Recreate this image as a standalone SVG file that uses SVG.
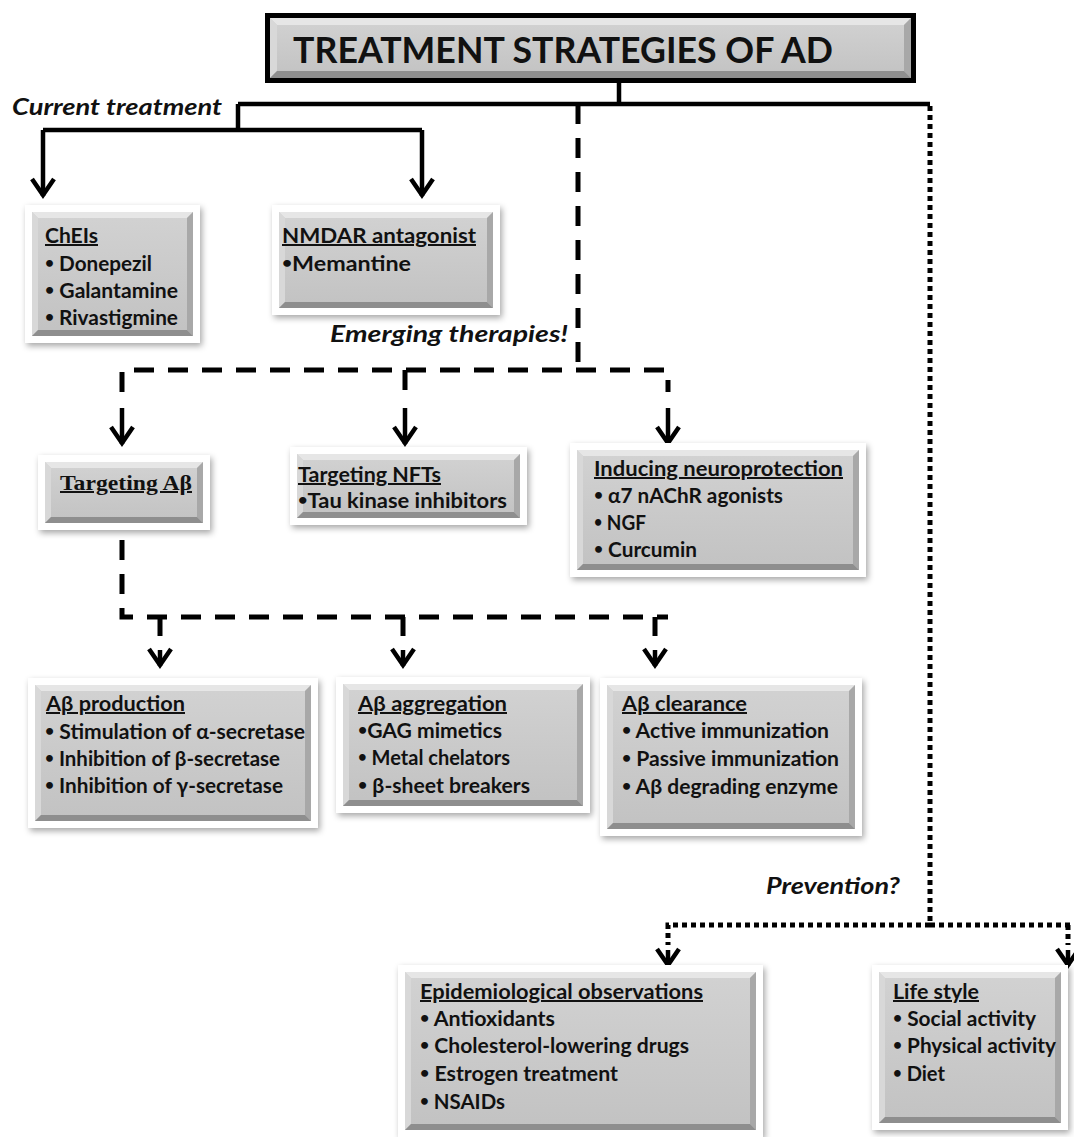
<svg xmlns="http://www.w3.org/2000/svg" width="1074" height="1137" viewBox="0 0 1074 1137">
<style>
.frame{fill:#fff;filter:url(#sh)}
.body{fill:url(#g)}
.bt{fill:#e6e6e6}.bl{fill:#d8d8d8}.br{fill:#a8a8a8}.bb{fill:#8e8e8e}
.t{font-family:Lato,'Liberation Sans',sans-serif;font-weight:700;font-size:20px;fill:#111}
.big{font-size:37px}
.u{text-decoration:underline}
.lab{font-style:italic;font-size:22px}
.serif{font-family:'Liberation Serif',serif;font-size:20px}
.b{font-size:15px}
.solid{stroke:#000;stroke-width:4.5;fill:none}
.dash{stroke:#000;stroke-width:5;stroke-dasharray:20 14;fill:none}
.dot{stroke:#000;stroke-width:5;stroke-dasharray:5 4;fill:none}
.arr{marker-end:url(#ah)}
</style>
<defs>
<linearGradient id="g" x1="0" y1="0" x2="0" y2="1"><stop offset="0" stop-color="#d2d2d2"/><stop offset="1" stop-color="#c2c2c2"/></linearGradient>
<filter id="sh" x="-10%" y="-10%" width="125%" height="130%"><feDropShadow dx="2" dy="3" stdDeviation="3" flood-color="#000" flood-opacity="0.35"/></filter>
<marker id="ah" markerUnits="userSpaceOnUse" markerWidth="40" markerHeight="40" viewBox="-20 -20 40 40" refX="0" refY="0" orient="auto" overflow="visible"><path d="M-17,-11 L-1,0 L-17,11" fill="none" stroke="#000" stroke-width="4.5"/></marker>
</defs>
<rect width="1074" height="1137" fill="#fff"/>

<g id="connectors">
<path class="solid" d="M619,83 V104 M238,104 H930 M238,104 V130 M43,130 H422"/>
<path class="solid arr" d="M43,130 V196"/>
<path class="solid arr" d="M422,130 V196"/>
<path class="dash" d="M578,104 V370"/>
<path class="dash" d="M122,392 V370 H668 V392 M405,370 V392"/>
<path class="solid arr" d="M122,408 V444"/>
<path class="solid arr" d="M405,408 V444"/>
<path class="solid arr" d="M668,408 V444"/>
<path class="dash" d="M122,540 V617 H668 M160,617 V636 M403,617 V636 M655,617 V636"/>
<path class="solid arr" d="M160,650 V666"/>
<path class="solid arr" d="M403,650 V666"/>
<path class="solid arr" d="M655,650 V666"/>
<path class="dot" d="M930,106 V925 H1070 M930,925 H668 V945 M1068,925 V945"/>
<path class="solid arr" d="M668,950 V966"/>
<path class="solid arr" d="M1068,950 V966"/>
</g>

<g id="title">
<rect x="265" y="13" width="651" height="70" fill="#000"/>
<rect x="270" y="18" width="641" height="60" class="body"/>
<polygon class="bt" points="270,18 911,18 904,25 277,25"/>
<polygon class="bl" points="270,18 277,25 277,71 270,78"/>
<polygon class="br" points="911,18 911,78 904,71 904,25"/>
<polygon class="bb" points="270,78 911,78 904,71 277,71"/>
<text class="t big" x="293" y="63" textLength="540" lengthAdjust="spacingAndGlyphs">TREATMENT STRATEGIES OF AD</text>
</g>

<g id="label-current"><text class="t lab" x="12" y="115" textLength="210" lengthAdjust="spacingAndGlyphs">Current treatment</text></g>
<g id="label-emerging"><text class="t lab" x="330" y="342" textLength="238" lengthAdjust="spacingAndGlyphs">Emerging therapies!</text></g>
<g id="label-prevention"><text class="t lab" x="766" y="894" textLength="134" lengthAdjust="spacingAndGlyphs">Prevention?</text></g>

<g id="chei">
<rect class="frame" x="25" y="205" width="175" height="138"/>
<rect class="body" x="32" y="212" width="161" height="124"/>
<polygon class="bt" points="32,212 193,212 187,218 38,218"/>
<polygon class="bl" points="32,212 38,218 38,330 32,336"/>
<polygon class="br" points="193,212 193,336 187,330 187,218"/>
<polygon class="bb" points="32,336 193,336 187,330 38,330"/>
<text class="t u" x="45" y="243" textLength="53" lengthAdjust="spacingAndGlyphs">ChEIs</text>
<text class="t" x="45" y="271" textLength="107" lengthAdjust="spacingAndGlyphs"><tspan class="b" dy="-3">•</tspan><tspan dy="3"> Donepezil</tspan></text>
<text class="t" x="45" y="298" textLength="133" lengthAdjust="spacingAndGlyphs"><tspan class="b" dy="-3">•</tspan><tspan dy="3"> Galantamine</tspan></text>
<text class="t" x="45" y="325" textLength="133" lengthAdjust="spacingAndGlyphs"><tspan class="b" dy="-3">•</tspan><tspan dy="3"> Rivastigmine</tspan></text>
</g>

<g id="nmdar">
<rect class="frame" x="272" y="205" width="228" height="110"/>
<rect class="body" x="279" y="212" width="214" height="96"/>
<polygon class="bt" points="279,212 493,212 487,218 285,218"/>
<polygon class="bl" points="279,212 285,218 285,302 279,308"/>
<polygon class="br" points="493,212 493,308 487,302 487,218"/>
<polygon class="bb" points="279,308 493,308 487,302 285,302"/>
<text class="t u" x="282" y="243" textLength="194" lengthAdjust="spacingAndGlyphs">NMDAR antagonist</text>
<text class="t" x="282" y="271" textLength="129" lengthAdjust="spacingAndGlyphs"><tspan class="b" dy="-3">•</tspan><tspan dy="3">Memantine</tspan></text>
</g>

<g id="targeting-abeta">
<rect class="frame" x="38" y="455" width="172" height="75"/>
<rect class="body" x="45" y="462" width="158" height="61"/>
<polygon class="bt" points="45,462 203,462 197,468 51,468"/>
<polygon class="bl" points="45,462 51,468 51,517 45,523"/>
<polygon class="br" points="203,462 203,523 197,517 197,468"/>
<polygon class="bb" points="45,523 203,523 197,517 51,517"/>
<text class="t serif u" x="60" y="490" textLength="132" lengthAdjust="spacingAndGlyphs">Targeting Aβ</text>
</g>

<g id="targeting-nfts">
<rect class="frame" x="290" y="447" width="237" height="78"/>
<rect class="body" x="297" y="454" width="223" height="64"/>
<polygon class="bt" points="297,454 520,454 514,460 303,460"/>
<polygon class="bl" points="297,454 303,460 303,512 297,518"/>
<polygon class="br" points="520,454 520,518 514,512 514,460"/>
<polygon class="bb" points="297,518 520,518 514,512 303,512"/>
<text class="t u" x="298" y="482" textLength="143" lengthAdjust="spacingAndGlyphs">Targeting NFTs</text>
<text class="t" x="298" y="508" textLength="209" lengthAdjust="spacingAndGlyphs"><tspan class="b" dy="-3">•</tspan><tspan dy="3">Tau kinase  inhibitors</tspan></text>
</g>

<g id="neuroprotection">
<rect class="frame" x="570" y="443" width="296" height="134"/>
<rect class="body" x="577" y="450" width="282" height="120"/>
<polygon class="bt" points="577,450 859,450 853,456 583,456"/>
<polygon class="bl" points="577,450 583,456 583,564 577,570"/>
<polygon class="br" points="859,450 859,570 853,564 853,456"/>
<polygon class="bb" points="577,570 859,570 853,564 583,564"/>
<text class="t u" x="594" y="476" textLength="249" lengthAdjust="spacingAndGlyphs">Inducing neuroprotection</text>
<text class="t" x="594" y="503" textLength="189" lengthAdjust="spacingAndGlyphs"><tspan class="b" dy="-3">•</tspan><tspan dy="3"> α7 nAChR agonists</tspan></text>
<text class="t" x="594" y="530" textLength="52" lengthAdjust="spacingAndGlyphs"><tspan class="b" dy="-3">•</tspan><tspan dy="3"> NGF</tspan></text>
<text class="t" x="594" y="557" textLength="103" lengthAdjust="spacingAndGlyphs"><tspan class="b" dy="-3">•</tspan><tspan dy="3"> Curcumin</tspan></text>
</g>

<g id="abeta-production">
<rect class="frame" x="28" y="678" width="290" height="150"/>
<rect class="body" x="35" y="685" width="276" height="136"/>
<polygon class="bt" points="35,685 311,685 305,691 41,691"/>
<polygon class="bl" points="35,685 41,691 41,815 35,821"/>
<polygon class="br" points="311,685 311,821 305,815 305,691"/>
<polygon class="bb" points="35,821 311,821 305,815 41,815"/>
<text class="t u" x="46" y="711" textLength="139" lengthAdjust="spacingAndGlyphs">Aβ production</text>
<text class="t" x="45" y="739" textLength="260" lengthAdjust="spacingAndGlyphs"><tspan class="b" dy="-3">•</tspan><tspan dy="3"> Stimulation of α-secretase</tspan></text>
<text class="t" x="45" y="766" textLength="235" lengthAdjust="spacingAndGlyphs"><tspan class="b" dy="-3">•</tspan><tspan dy="3"> Inhibition of β-secretase</tspan></text>
<text class="t" x="45" y="793" textLength="238" lengthAdjust="spacingAndGlyphs"><tspan class="b" dy="-3">•</tspan><tspan dy="3"> Inhibition of γ-secretase</tspan></text>
</g>

<g id="abeta-aggregation">
<rect class="frame" x="336" y="677" width="254" height="136"/>
<rect class="body" x="343" y="684" width="240" height="122"/>
<polygon class="bt" points="343,684 583,684 577,690 349,690"/>
<polygon class="bl" points="343,684 349,690 349,800 343,806"/>
<polygon class="br" points="583,684 583,806 577,800 577,690"/>
<polygon class="bb" points="343,806 583,806 577,800 349,800"/>
<text class="t u" x="358" y="711" textLength="149" lengthAdjust="spacingAndGlyphs">Aβ aggregation</text>
<text class="t" x="358" y="738" textLength="144" lengthAdjust="spacingAndGlyphs"><tspan class="b" dy="-3">•</tspan><tspan dy="3">GAG mimetics</tspan></text>
<text class="t" x="358" y="765" textLength="152" lengthAdjust="spacingAndGlyphs"><tspan class="b" dy="-3">•</tspan><tspan dy="3"> Metal chelators</tspan></text>
<text class="t" x="358" y="793" textLength="172" lengthAdjust="spacingAndGlyphs"><tspan class="b" dy="-3">•</tspan><tspan dy="3"> β-sheet breakers</tspan></text>
</g>

<g id="abeta-clearance">
<rect class="frame" x="600" y="678" width="262" height="158"/>
<rect class="body" x="607" y="685" width="248" height="144"/>
<polygon class="bt" points="607,685 855,685 849,691 613,691"/>
<polygon class="bl" points="607,685 613,691 613,823 607,829"/>
<polygon class="br" points="855,685 855,829 849,823 849,691"/>
<polygon class="bb" points="607,829 855,829 849,823 613,823"/>
<text class="t u" x="622" y="711" textLength="125" lengthAdjust="spacingAndGlyphs">Aβ clearance</text>
<text class="t" x="622" y="738" textLength="207" lengthAdjust="spacingAndGlyphs"><tspan class="b" dy="-3">•</tspan><tspan dy="3"> Active immunization</tspan></text>
<text class="t" x="622" y="766" textLength="217" lengthAdjust="spacingAndGlyphs"><tspan class="b" dy="-3">•</tspan><tspan dy="3"> Passive immunization</tspan></text>
<text class="t" x="622" y="794" textLength="216" lengthAdjust="spacingAndGlyphs"><tspan class="b" dy="-3">•</tspan><tspan dy="3"> Aβ degrading enzyme</tspan></text>
</g>

<g id="epidemiological">
<rect class="frame" x="398" y="965" width="365" height="172"/>
<rect class="body" x="405" y="972" width="351" height="158"/>
<polygon class="bt" points="405,972 756,972 750,978 411,978"/>
<polygon class="bl" points="405,972 411,978 411,1124 405,1130"/>
<polygon class="br" points="756,972 756,1130 750,1124 750,978"/>
<polygon class="bb" points="405,1130 756,1130 750,1124 411,1124"/>
<text class="t u" x="420" y="999" textLength="283" lengthAdjust="spacingAndGlyphs">Epidemiological observations</text>
<text class="t" x="420" y="1026" textLength="135" lengthAdjust="spacingAndGlyphs"><tspan class="b" dy="-3">•</tspan><tspan dy="3"> Antioxidants</tspan></text>
<text class="t" x="420" y="1053" textLength="269" lengthAdjust="spacingAndGlyphs"><tspan class="b" dy="-3">•</tspan><tspan dy="3"> Cholesterol-lowering drugs</tspan></text>
<text class="t" x="420" y="1081" textLength="198" lengthAdjust="spacingAndGlyphs"><tspan class="b" dy="-3">•</tspan><tspan dy="3"> Estrogen treatment</tspan></text>
<text class="t" x="420" y="1109" textLength="85" lengthAdjust="spacingAndGlyphs"><tspan class="b" dy="-3">•</tspan><tspan dy="3"> NSAIDs</tspan></text>
</g>

<g id="lifestyle">
<rect class="frame" x="872" y="965" width="196" height="165"/>
<rect class="body" x="879" y="972" width="182" height="151"/>
<polygon class="bt" points="879,972 1061,972 1055,978 885,978"/>
<polygon class="bl" points="879,972 885,978 885,1117 879,1123"/>
<polygon class="br" points="1061,972 1061,1123 1055,1117 1055,978"/>
<polygon class="bb" points="879,1123 1061,1123 1055,1117 885,1117"/>
<text class="t u" x="893" y="999" textLength="86" lengthAdjust="spacingAndGlyphs">Life style</text>
<text class="t" x="893" y="1026" textLength="143" lengthAdjust="spacingAndGlyphs"><tspan class="b" dy="-3">•</tspan><tspan dy="3"> Social activity</tspan></text>
<text class="t" x="893" y="1053" textLength="163" lengthAdjust="spacingAndGlyphs"><tspan class="b" dy="-3">•</tspan><tspan dy="3"> Physical activity</tspan></text>
<text class="t" x="893" y="1081" textLength="52" lengthAdjust="spacingAndGlyphs"><tspan class="b" dy="-3">•</tspan><tspan dy="3"> Diet</tspan></text>
</g>
</svg>
